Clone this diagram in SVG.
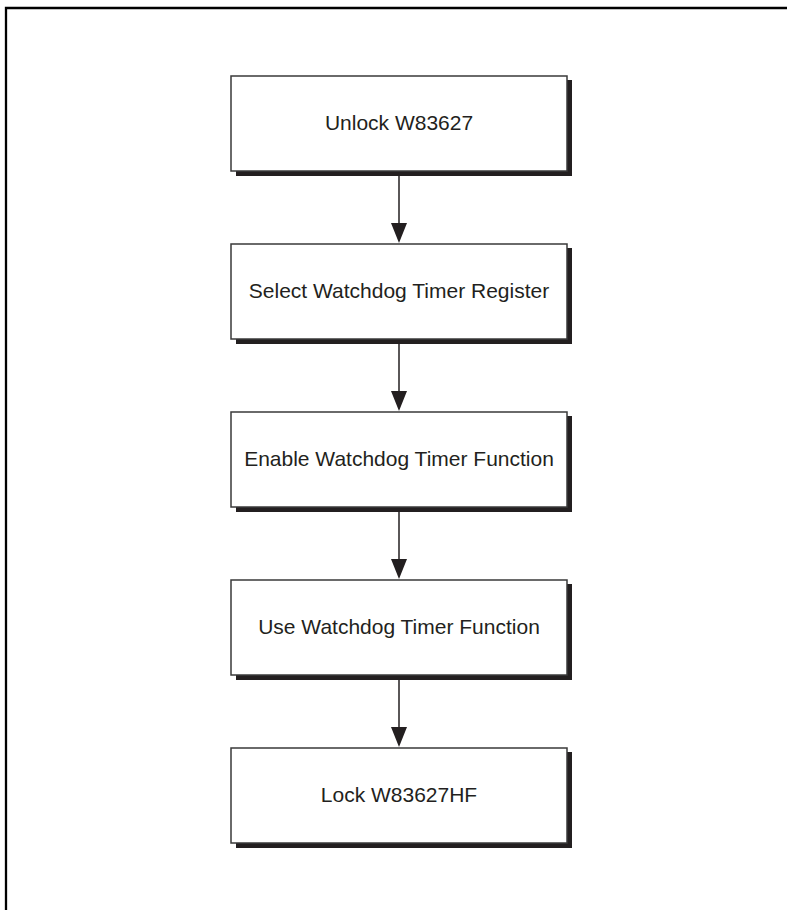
<svg xmlns="http://www.w3.org/2000/svg" width="787" height="910" viewBox="0 0 787 910">
<style>
.frame{fill:none;stroke:#000;stroke-width:2.3}
.box{fill:#fff;stroke:#3a3a3a;stroke-width:1.5}
.shadow{fill:#231f20}
.label{font-family:"Liberation Sans",Arial,sans-serif;font-size:21px;fill:#231f20;text-anchor:middle}
.conn{stroke:#231f20;stroke-width:1.5;fill:none}
.head{fill:#231f20}
</style>
<rect width="787" height="910" fill="#fff"/>
<polyline class="frame" points="6,910 6,8 787,8"/>
<g id="node1"><rect class="shadow" x="236" y="80" width="336" height="96"/><rect class="box" x="231" y="76" width="336" height="95"/><text class="label" x="399" y="130">Unlock W83627</text></g>
<g id="node2"><rect class="shadow" x="236" y="248" width="336" height="96"/><rect class="box" x="231" y="244" width="336" height="95"/><text class="label" x="399" y="298">Select Watchdog Timer Register</text></g>
<g id="node3"><rect class="shadow" x="236" y="416" width="336" height="96"/><rect class="box" x="231" y="412" width="336" height="95"/><text class="label" x="399" y="466">Enable Watchdog Timer Function</text></g>
<g id="node4"><rect class="shadow" x="236" y="584" width="336" height="96"/><rect class="box" x="231" y="580" width="336" height="95"/><text class="label" x="399" y="634">Use Watchdog Timer Function</text></g>
<g id="node5"><rect class="shadow" x="236" y="752" width="336" height="96"/><rect class="box" x="231" y="748" width="336" height="95"/><text class="label" x="399" y="802">Lock W83627HF</text></g>
<g id="connectors">
<line class="conn" x1="399" y1="176" x2="399" y2="226"/><polygon class="head" points="391,223 407,223 399,243"/>
<line class="conn" x1="399" y1="344" x2="399" y2="394"/><polygon class="head" points="391,391 407,391 399,411"/>
<line class="conn" x1="399" y1="512" x2="399" y2="562"/><polygon class="head" points="391,559 407,559 399,579"/>
<line class="conn" x1="399" y1="680" x2="399" y2="730"/><polygon class="head" points="391,727 407,727 399,747"/>
</g>
</svg>
